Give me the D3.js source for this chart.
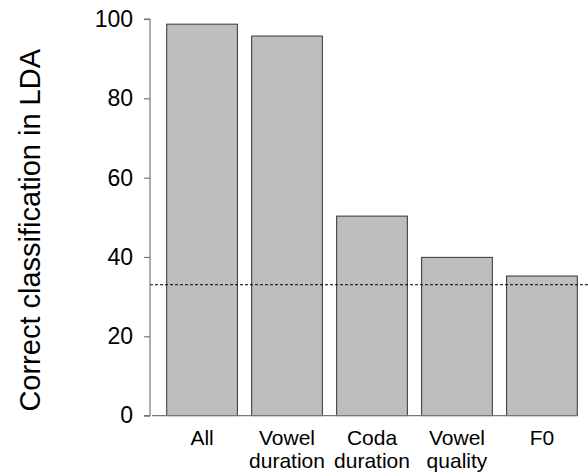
<!DOCTYPE html>
<html>
<head>
<meta charset="utf-8">
<script src="https://cdn.jsdelivr.net/npm/d3@7"></script>
<style>
  body { margin: 0; background: #fff; }
  text { font-family: "Liberation Sans", Arial, sans-serif; fill: #000; }
</style>
</head>
<body>
<svg id="chart" width="588" height="474"></svg>
<script>
// data
const categories = ['All', 'Vowel duration', 'Coda duration', 'Vowel quality', 'F0'];
const labelLines = [['All'], ['Vowel', 'duration'], ['Coda', 'duration'], ['Vowel', 'quality'], ['F0']];
const values = [98.7, 95.7, 50.3, 39.9, 35.2];
const chanceLevel = 33;
const yTicks = [0, 20, 40, 60, 80, 100];

const svg = d3.select('#chart');

const y = d3.scaleLinear().domain([0, 100]).range([415.6, 19]);
const x = d3.scaleBand().domain(categories).range([166.7, 577.3]).paddingInner(0.168).paddingOuter(0);

// bars
svg.append('g')
  .selectAll('rect')
  .data(values)
  .join('rect')
  .attr('x', (d, i) => x(categories[i]))
  .attr('y', d => y(d))
  .attr('width', x.bandwidth())
  .attr('height', d => y(0) - y(d))
  .attr('fill', '#bebebe')
  .attr('stroke', '#333')
  .attr('stroke-width', 1);

// baseline under the bars
svg.append('line')
  .attr('x1', 152).attr('x2', x(categories[categories.length - 1]) + x.bandwidth())
  .attr('y1', y(0)).attr('y2', y(0))
  .attr('stroke', '#777').attr('stroke-width', 1.2);

// chance line
svg.append('line')
  .attr('x1', 150).attr('x2', 588)
  .attr('y1', y(chanceLevel)).attr('y2', y(chanceLevel))
  .attr('stroke', '#000').attr('stroke-width', 1)
  .attr('stroke-dasharray', '3,2');

// y axis
const yAxis = d3.axisLeft(y).tickValues(yTicks).tickSize(6).tickPadding(11);
const gy = svg.append('g').attr('transform', 'translate(150,0)').call(yAxis);
gy.select('.domain').attr('stroke', '#777').attr('stroke-width', 1.2).attr('d', `M-6,${y(100)}H0V${y(0)}H-6`);
gy.selectAll('.tick line').attr('stroke', '#777').attr('stroke-width', 1.2);
gy.selectAll('.tick text')
  .style('font-family', '"Liberation Sans", Arial, sans-serif')
  .style('font-size', '23px')
  .attr('fill', '#000');

// category labels
const lab = svg.append('g');
labelLines.forEach((lines, i) => {
  const cx = x(categories[i]) + x.bandwidth() / 2;
  lines.forEach((t, j) => {
    lab.append('text')
      .attr('x', cx)
      .attr('y', 445 + j * 23)
      .attr('text-anchor', 'middle')
      .style('font-size', '21px')
      .text(t);
  });
});

// y label
svg.append('text')
  .attr('transform', `translate(40,${(y(0) + y(100)) / 2 + 13}) rotate(-90)`)
  .attr('text-anchor', 'middle')
  .style('font-size', '29px')
  .text('Correct classification in LDA');
</script>
</body>
</html>
